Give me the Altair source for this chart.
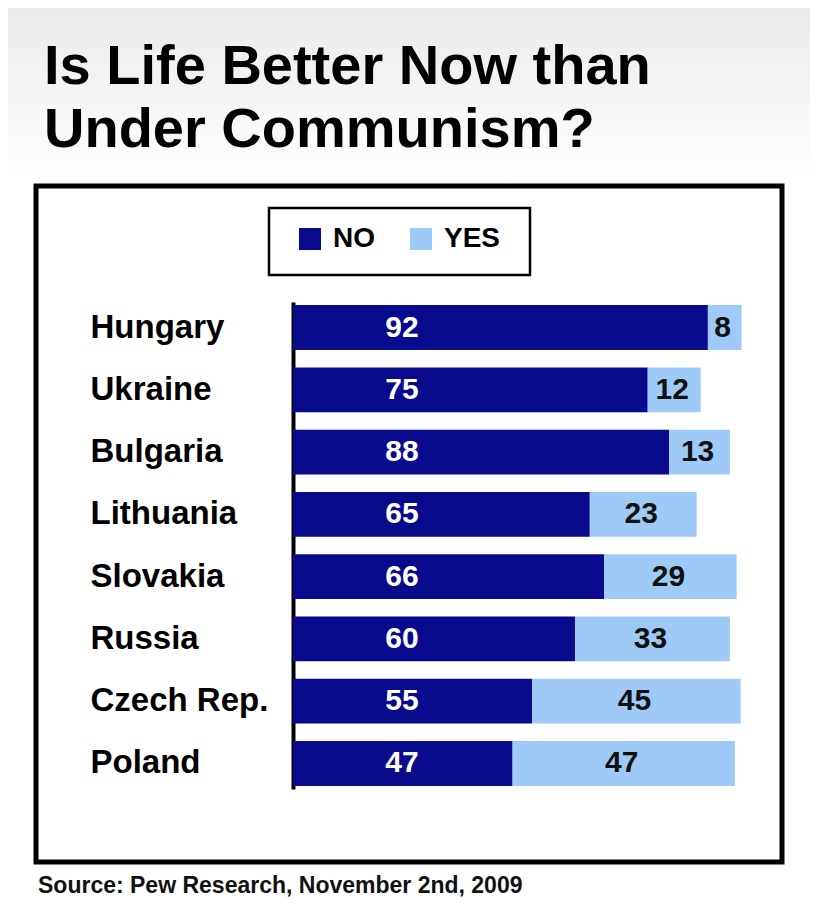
import altair as alt
import pandas as pd

# ---------------- data ----------------
countries = ["Hungary", "Ukraine", "Bulgaria", "Lithuania", "Slovakia",
             "Russia", "Czech Rep.", "Poland"]
no_values = [92, 75, 88, 65, 66, 60, 55, 47]
yes_values = [8, 12, 13, 23, 29, 33, 45, 47]
# bar lengths as they are drawn in the picture (percent scale)
no_bar = [92.4, 79.0, 83.8, 66.1, 69.3, 62.8, 53.3, 48.9]
yes_bar = [7.5, 11.8, 13.5, 23.8, 29.5, 34.5, 46.4, 49.5]
answers = ["NO", "YES"]
title_lines = ["Is Life Better Now than", "Under Communism?"]
source_text = "Source: Pew Research, November 2nd, 2009"

rows = []
for c, nv, yv, nb, yb in zip(countries, no_values, yes_values, no_bar, yes_bar):
    rows.append(dict(country=c, answer="NO", start=0.0, end=nb, label=str(nv)))
    rows.append(dict(country=c, answer="YES", start=nb, end=nb + yb, label=str(yv)))
df = pd.DataFrame(rows)

# ---------------- style ----------------
FONT = "Liberation Sans"
NAVY = "#0a0a8c"
LIGHT = "#9ecaf8"
W, H = 449, 487

x_scale = alt.Scale(domain=[0, 100], nice=False, zero=True)
y_scale = alt.Scale(paddingInner=0.28, paddingOuter=0.05)

y_axis = alt.Axis(title=None, ticks=False, tickSize=0, domain=True,
                  domainColor="black", domainWidth=4, grid=False,
                  labelAlign="left", labelBaseline="middle", labelPadding=203,
                  labelFont=FONT, labelFontSize=33, labelFontWeight="bold",
                  labelColor="black", labelLimit=400)

one = pd.DataFrame({"t": [""]})

gradient = alt.Chart(one).mark_rect(
    color=alt.LinearGradient(
        gradient="linear",
        stops=[alt.GradientStop(offset=0, color="#e9e9e9"),
               alt.GradientStop(offset=1, color="#ffffff")],
        x1=0, x2=0, y1=0, y2=1)
).encode(x=alt.value(-293), x2=alt.value(525), y=alt.value(-302), y2=alt.value(-125))

outer_box = alt.Chart(one).mark_rect(fillOpacity=0, stroke="black", strokeWidth=5).encode(
    x=alt.value(-257), x2=alt.value(489), y=alt.value(-116), y2=alt.value(560))

legend_box = alt.Chart(one).mark_rect(fillOpacity=0, stroke="black", strokeWidth=2.5).encode(
    x=alt.value(-24), x2=alt.value(237), y=alt.value(-94), y2=alt.value(-27))

bars = alt.Chart(df).mark_bar().encode(
    y=alt.Y("country:N", sort=countries, scale=y_scale, axis=y_axis),
    x=alt.X("start:Q", scale=x_scale, axis=None),
    x2="end:Q",
    color=alt.Color("answer:N", title=None,
                    scale=alt.Scale(domain=answers, range=[NAVY, LIGHT]),
                    legend=alt.Legend(orient="none", legendX=3, legendY=-77,
                                      direction="horizontal", symbolType="square",
                                      symbolSize=484, symbolStrokeWidth=0, symbolOpacity=1,
                                      labelFont=FONT, labelFontSize=28,
                                      labelFontWeight="bold", labelColor="black",
                                      labelOffset=9, columnPadding=32, padding=0)),
)

no_text = alt.Chart(df).transform_filter(alt.datum.answer == "NO").mark_text(
    font=FONT, fontSize=30, fontWeight="bold", color="white",
    align="center", baseline="middle"
).encode(y=alt.Y("country:N", sort=countries), x=alt.value(109), text="label:N")

yes_text = alt.Chart(df).transform_filter(alt.datum.answer == "YES").transform_calculate(
    mid="(datum.start + datum.end) / 2"
).mark_text(
    font=FONT, fontSize=30, fontWeight="bold", color="#111111",
    align="center", baseline="middle", dx=-2
).encode(y=alt.Y("country:N", sort=countries),
         x=alt.X("mid:Q", scale=x_scale, axis=None), text="label:N")

title_df = pd.DataFrame({"t": ["\n".join(title_lines)]})
title_text = alt.Chart(title_df).mark_text(
    font=FONT, fontSize=56, fontWeight="bold", color="black",
    align="left", baseline="alphabetic", lineBreak="\n", lineHeight=63
).encode(x=alt.value(-249), y=alt.value(-218), text="t:N")

source_df = pd.DataFrame({"t": [source_text]})
source = alt.Chart(source_df).mark_text(
    font=FONT, fontSize=23, fontWeight="bold", color="#111111",
    align="left", baseline="alphabetic"
).encode(x=alt.value(-255), y=alt.value(591), text="t:N")

chart = alt.layer(
    gradient, outer_box, legend_box, bars, no_text, yes_text, title_text, source
).properties(
    width=W, height=H,
    padding={"left": 285, "top": 294, "right": 68, "bottom": 118},
    autosize=alt.AutoSizeParams(type="none"),
    background="white",
).configure_view(strokeWidth=0)

chart.save("out.html", embed_options={"renderer": "svg", "actions": False})
